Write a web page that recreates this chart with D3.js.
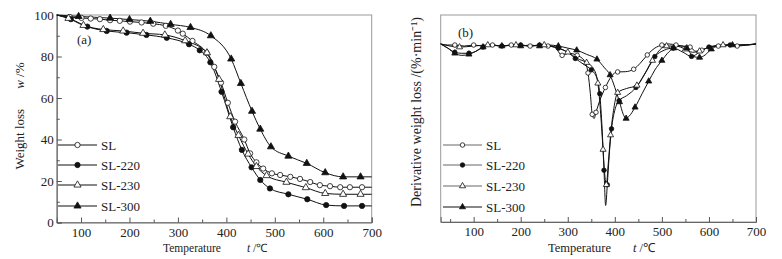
<!DOCTYPE html>
<html>
<head>
<meta charset="utf-8">
<script src="https://cdn.jsdelivr.net/npm/d3@7"></script>
<style>
  body { margin: 0; background: #fff; }
  text { font-family: "Liberation Serif", "Times New Roman", serif; fill: #222; }
</style>
</head>
<body>
<script>
// Series names and marker styles
var seriesNames = ["SL", "SL-220", "SL-230", "SL-300"];
var seriesShapes = ["circle", "circle", "triangle", "triangle"];
var seriesFilled = [false, true, false, true];

// (a) TG curves: [temperature C, weight %]
var tgSL = [[50,100],[77,99],[101,98.6],[120,98.3],[139,98],[160,97.5],[180,97.2],[201,96.8],[225,96.4],[249,95.8],[275,94.8],[300,92.5],[310,91],[330,87.5],[359,81.8],[375,75],[389,67.4],[403,57.7],[418,48.6],[437,40],[449,33.3],[462,29],[476,26],[494,23.7],[511,22.9],[532,22],[552,21],[573,19.5],[593,18],[614,17.5],[635,17],[655,17],[680,17],[700,17]];
var tgSL220 = [[50,100],[79,98],[113,94.4],[153,92.3],[194,91.5],[235,90.4],[277,89],[323,85.9],[345,83],[367,77.2],[390,63],[414,45.9],[432,35],[452,26.6],[470,20.5],[490,16.4],[528,13.6],[567,11.2],[606,8.4],[643,8],[680,8],[700,8]];
var tgSL230 = [[50,100],[74,98.4],[105,95],[146,93],[187,92.3],[228,91.2],[273,90.4],[315,87.6],[360,81.8],[385,69],[408,51],[425,42],[445,33],[462,27],[483,22.6],[524,19.4],[564,16.8],[604,14],[641,13.6],[677,13.6],[700,13.6]];
var tgSL300 = [[50,100],[95,99.3],[160,98.5],[200,97.8],[243,97],[285,95.5],[326,94],[368,90],[410,78.8],[430,67],[453,53.6],[470,45],[492,36.5],[528,32],[566,28.5],[604,24],[641,22],[677,22],[700,22]];

// (b) DTG curves: [temperature C, relative derivative value, axis unlabeled]
var dtgSL = [[30,86],[45,85.5],[60,85.5],[80,85],[100,85.5],[120,85],[140,85.5],[160,85],[180,85.5],[200,85.5],[220,85],[240,85.5],[258,85],[272,84.5],[288,80.5],[302,81.5],[320,80.5],[335,78],[343,72],[348,62],[352,52],[356,50],[360,53],[367,58],[380,65],[393,70.5],[406,72.5],[422,72.6],[440,73.8],[454,76.7],[469,80.7],[485,84],[500,85.5],[515,86],[530,85.5],[545,85],[560,84.5],[572,82.5],[585,83],[600,84.5],[620,85],[640,85.5],[660,85],[680,85.5],[700,86]];
var dtgSL220 = [[30,86],[45,84],[60,82],[75,81.5],[90,81.5],[105,82.5],[120,84.5],[140,85.5],[160,85],[180,85.5],[200,85.5],[220,85],[240,85.5],[260,85],[280,84],[300,82],[316,79],[335,76],[350,73.5],[362,69.5],[368,62],[373,45],[377,25],[380.5,8],[384,18],[388,32],[393,45],[400,54],[409,58.6],[425,61],[445,65],[462,71],[485,79.9],[505,83],[524,84],[545,82],[563,80],[580,82],[600,84.5],[620,85],[645,85.5],[670,85.5],[700,86]];
var dtgSL230 = [[30,86],[50,85],[70,84.5],[100,85],[130,85.5],[160,85],[190,85.5],[220,85],[250,85.5],[280,84],[300,82],[320,79],[340,77],[355,74],[364,67],[370,52],[375,35],[379,22],[382,18],[386,28],[391,42],[398,55],[406,62.5],[425,64.5],[447,66],[465,72],[480,78],[495,83],[510,85],[530,85],[550,83.5],[565,82],[580,82.5],[600,84.5],[630,85.5],[665,85.5],[700,86]];
var dtgSL300 = [[30,86],[45,84],[60,81.5],[75,80.5],[90,81],[105,82.5],[120,84.5],[140,85.5],[160,85],[180,85.5],[200,85],[220,85.5],[240,85],[260,85.5],[280,85],[300,84],[319,83],[340,81],[362,78.6],[378,74.5],[390,71],[400,65],[410,58],[418,52],[424,50],[430,51],[443,55.4],[458,62],[472,68],[485,73.4],[500,78],[512,81.5],[525,84],[540,85],[553,84],[566,80],[580,79.5],[592,80.7],[605,83.5],[620,85],[650,85.5],[680,85.5],[700,86]];

var tgData = [tgSL, tgSL220, tgSL230, tgSL300];
var dtgData = [dtgSL, dtgSL220, dtgSL230, dtgSL300];

// Axis ticks
var xMajor = [100, 200, 300, 400, 500, 600, 700];
var xMinor = [50, 150, 250, 350, 450, 550, 650];
var yMajorA = [0, 20, 40, 60, 80, 100];
var yMinorA = [10, 30, 50, 70, 90];

var svg = d3.select("body").append("svg")
  .attr("width", 782)
  .attr("height", 259);

function markerPath(shape, size) {
  var t = shape == "triangle" ? d3.symbolTriangle : d3.symbolCircle;
  return d3.symbol().type(t).size(size)();
}

function drawPanel(opt) {
  var x = d3.scaleLinear().domain(opt.xDomain).range([opt.left, opt.right]);
  var y = d3.scaleLinear().domain(opt.yDomain).range([opt.bottom, opt.top]);
  var g = svg.append("g");

  // frame
  g.append("rect")
    .attr("x", opt.left).attr("y", opt.top)
    .attr("width", opt.right - opt.left).attr("height", opt.bottom - opt.top)
    .attr("fill", "none").attr("stroke", "#999").attr("stroke-width", 1);

  // x axis, ticks pointing inward
  var xAxis = d3.axisBottom(x).tickValues(xMajor).tickSize(-5).tickPadding(5);
  var xa = g.append("g").attr("transform", "translate(0," + opt.bottom + ")").call(xAxis);
  xa.select(".domain").attr("stroke", "#666");
  xa.selectAll(".tick line").attr("stroke", "#555");
  xa.selectAll("text").style("font-size", "13px").style("font-family", "Liberation Serif").attr("fill", "#222");
  var xm = d3.axisBottom(x).tickValues(xMinor).tickSize(-3).tickFormat("");
  var xma = g.append("g").attr("transform", "translate(0," + opt.bottom + ")").call(xm);
  xma.select(".domain").remove();
  xma.selectAll(".tick line").attr("stroke", "#555");

  if (opt.yTicks) {
    var yAxis = d3.axisLeft(y).tickValues(yMajorA).tickSize(-5).tickPadding(3);
    var ya = g.append("g").attr("transform", "translate(" + opt.left + ",0)").call(yAxis);
    ya.select(".domain").attr("stroke", "#666");
    ya.selectAll(".tick line").attr("stroke", "#555");
    ya.selectAll("text").style("font-size", "13px").style("font-family", "Liberation Serif").attr("fill", "#222");
    var ym = d3.axisLeft(y).tickValues(yMinorA).tickSize(-3).tickFormat("");
    var yma = g.append("g").attr("transform", "translate(" + opt.left + ",0)").call(ym);
    yma.select(".domain").remove();
    yma.selectAll(".tick line").attr("stroke", "#555");
  }

  var line = d3.line()
    .x(function(d) { return x(d[0]); })
    .y(function(d) { return y(d[1]); })
    .curve(d3.curveMonotoneX);

  opt.data.forEach(function(s, i) {
    g.append("path")
      .attr("d", line(s))
      .attr("fill", "none")
      .attr("stroke", "#111")
      .attr("stroke-width", 1);
  });
  opt.data.forEach(function(s, i) {
    g.selectAll(".m" + i)
      .data(s.filter(function(d, j) { return j > 0 && j < s.length - 1 && j % opt.step == 0; }))
      .enter()
      .append("path")
        .attr("d", markerPath(seriesShapes[i], opt.msize))
        .attr("transform", function(d) { return "translate(" + x(d[0]) + "," + y(d[1]) + ")"; })
        .attr("fill", seriesFilled[i] ? "#111" : "#fff")
        .attr("stroke", "#111")
        .attr("stroke-width", 0.8);
  });

  // legend
  seriesNames.forEach(function(n, i) {
    var ly = opt.legendY[i];
    g.append("line")
      .attr("x1", opt.legX).attr("x2", opt.legX + 39)
      .attr("y1", ly).attr("y2", ly)
      .attr("stroke", opt.legColors[i]).attr("stroke-width", 1);
    g.append("path")
      .attr("d", markerPath(seriesShapes[i], opt.msize))
      .attr("transform", "translate(" + (opt.legX + 19.5) + "," + ly + ")")
      .attr("fill", seriesFilled[i] ? "#111" : "#fff")
      .attr("stroke", "#111").attr("stroke-width", 0.8);
    g.append("text")
      .attr("x", opt.legX + 43).attr("y", ly + 4.5)
      .style("font-size", "13px")
      .text(n);
  });

  g.append("text")
    .attr("x", opt.tagX).attr("y", opt.tagY)
    .style("font-size", "13px")
    .text(opt.tag);

  // x label
  var xl = g.append("text")
    .attr("x", opt.xLabX).attr("y", 252)
    .style("font-size", opt.xLabSize);
  xl.append("tspan").text("Temperature");
  xl.append("tspan").attr("dx", opt.xLabGap).style("font-style", "italic").text("t");
  xl.append("tspan").text(" /\u2103");

  return g;
}

drawPanel({
  left: 56.8, right: 371.7, top: 15, bottom: 222.5,
  xDomain: [50, 700], yDomain: [0, 100],
  data: tgData, step: 1, msize: 22, yTicks: true,
  legX: 58, legendY: [145, 165, 185, 206], legColors: ["#111", "#111", "#111", "#111"],
  tag: "(a)", tagX: 77, tagY: 44, xLabX: 163, xLabSize: "11.5px", xLabGap: 26
});

drawPanel({
  left: 440.7, right: 756, top: 15, bottom: 222,
  xDomain: [30, 700], yDomain: [0, 100],
  data: dtgData, step: 2, msize: 16, yTicks: false,
  legX: 443, legendY: [145, 165, 186, 207], legColors: ["#666", "#666", "#666", "#111"],
  tag: "(b)", tagX: 458, tagY: 37, xLabX: 548, xLabSize: "12.5px", xLabGap: 22
});

// rotated y labels
var yl = svg.append("text")
  .attr("transform", "translate(24,116)rotate(-90)")
  .attr("text-anchor", "middle")
  .style("font-size", "13px");
yl.append("tspan").text("Weight loss");
yl.append("tspan").attr("dx", 20).style("font-style", "italic").text("w");
yl.append("tspan").text(" /%");

svg.append("text")
  .attr("transform", "translate(421,112)rotate(-90)")
  .attr("text-anchor", "middle")
  .style("font-size", "14px")
  .text("Derivative weight loss /(%\u00b7min\u207b\u00b9)");
</script>
</body>
</html>
